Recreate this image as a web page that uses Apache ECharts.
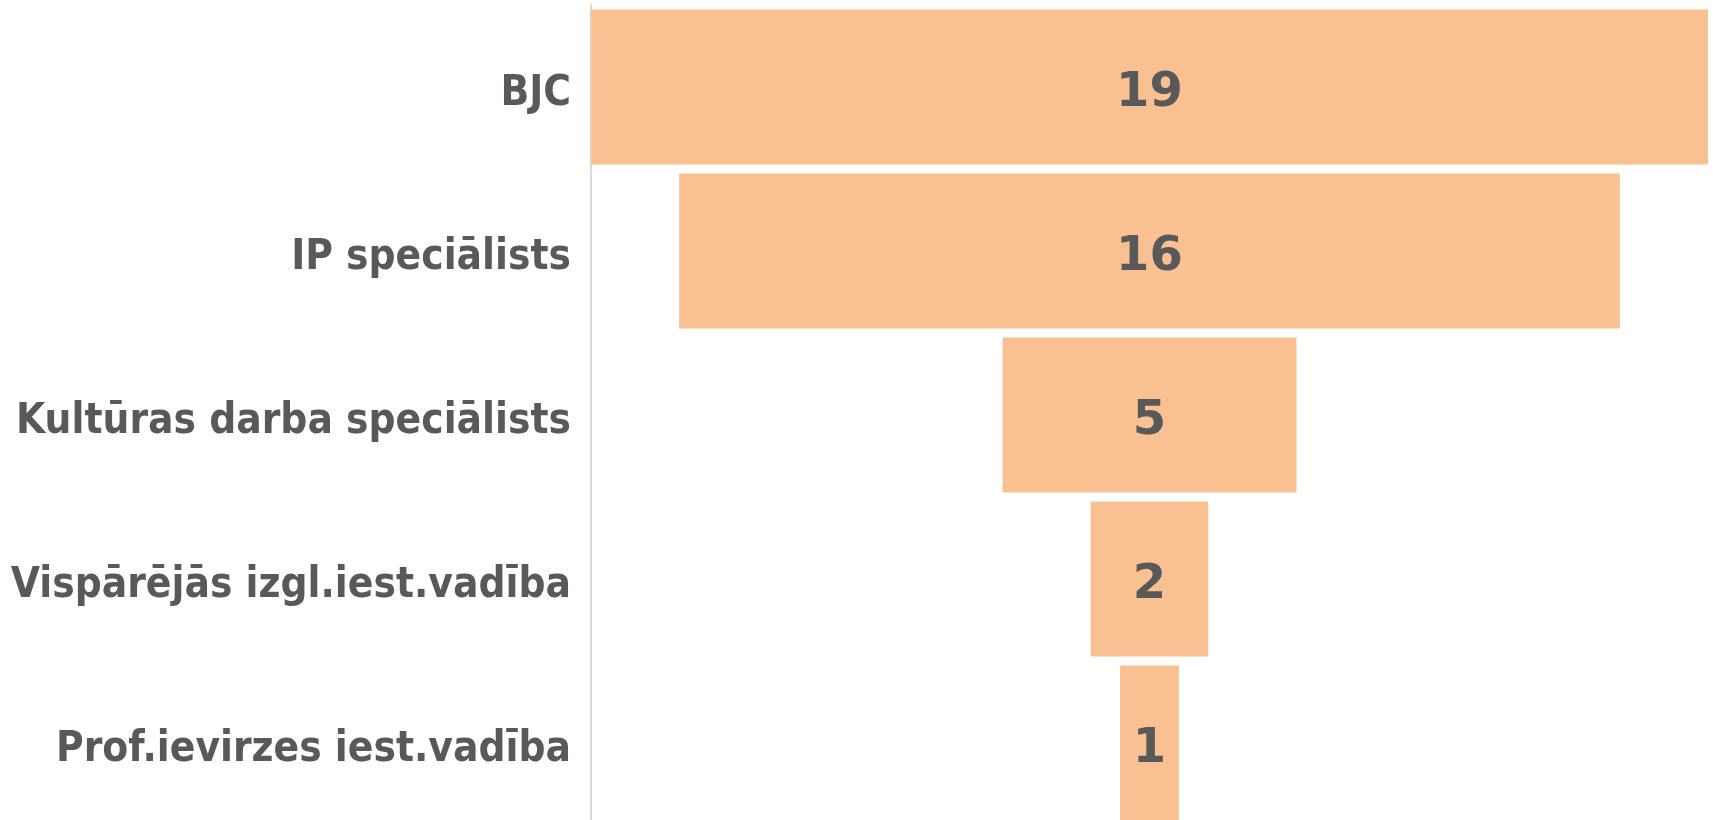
<!DOCTYPE html>
<html>
<head>
<meta charset="utf-8">
<script src="https://cdn.jsdelivr.net/npm/echarts@6/dist/echarts.min.js"></script>
<style>
  html, body { margin: 0; padding: 0; background: #fff; }
  #main { width: 1713px; height: 820px; }
</style>
</head>
<body>
<div id="main"></div>
<script>
// kategorijas un vērtības
var categories = ['BJC', 'IP speciālists', 'Kultūras darba speciālists', 'Vispārējās izgl.iest.vadība', 'Prof.ievirzes iest.vadība'];
var values = [19, 16, 5, 2, 1];

var maxVal = 19;
// neredzamā nobīde, lai joslas būtu centrētas (piltuve)
var offsets = [];
for (var i = 0; i < values.length; i++) {
    offsets.push((maxVal - values[i]) / 2);
}

var myChart = echarts.init(document.getElementById('main'));
var option = {
    animation: false,
    grid: { left: 591, right: 5, top: 5, height: 820, containLabel: false, outerBoundsMode: 'none' },
    xAxis: {
        type: 'value',
        min: 0,
        max: maxVal,
        show: false
    },
    yAxis: {
        type: 'category',
        inverse: true,
        data: categories,
        axisLine: { show: true, lineStyle: { color: '#d9d9d9', width: 2 } },
        axisTick: { show: false },
        axisLabel: {
            margin: 20,
            formatter: function (v) { return '{a|' + v + '}'; },
            rich: {
                a: {
                    color: '#595959',
                    fontSize: 42,
                    fontWeight: 'bold',
                    fontFamily: 'DejaVu Sans Condensed',
                    padding: [15, 0, 0, 0]
                }
            }
        }
    },
    series: [
        {
            type: 'bar',
            stack: 'f',
            data: offsets,
            itemStyle: { color: 'transparent' },
            silent: true,
            barCategoryGap: '5.5%'
        },
        {
            type: 'bar',
            stack: 'f',
            data: values,
            barCategoryGap: '5.5%',
            itemStyle: { color: '#F9C191' },
            label: {
                show: true,
                position: 'inside',
                offset: [0, 7],
                color: '#595959',
                fontSize: 48,
                fontWeight: 'bold',
                fontFamily: 'DejaVu Sans'
            }
        }
    ]
};
myChart.setOption(option);
</script>
</body>
</html>
